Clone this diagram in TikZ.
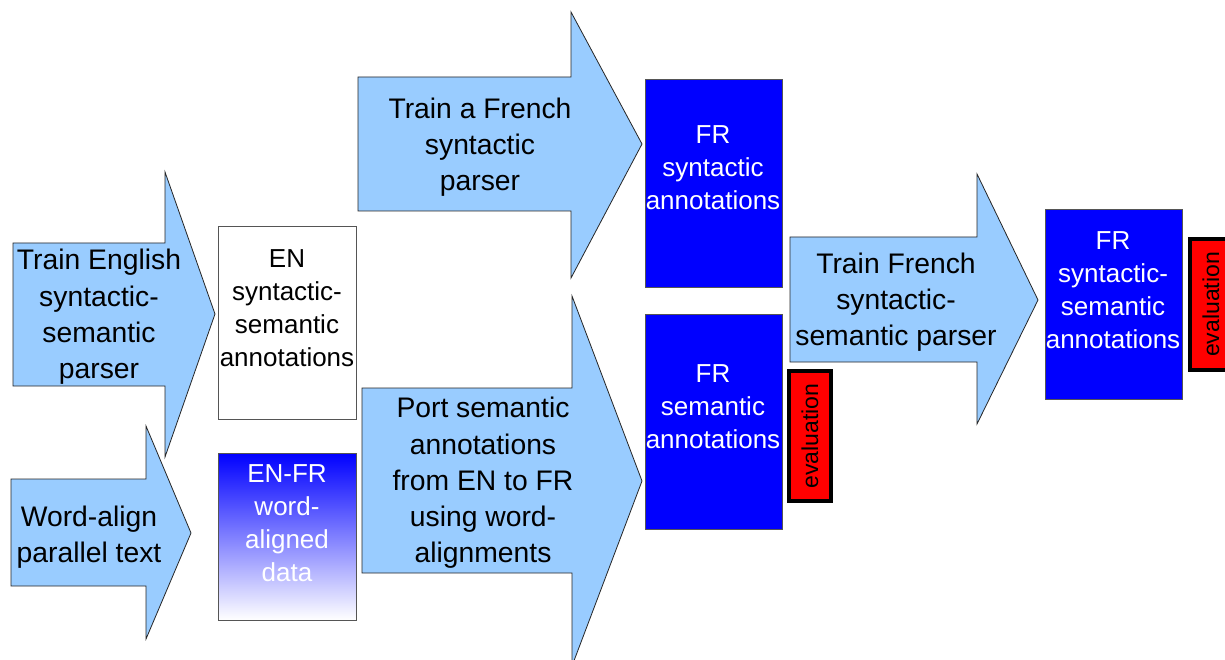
\documentclass[tikz,border=0pt]{standalone}
\usepackage{fontspec}
\setmainfont{Liberation Sans}
\definecolor{arrowblue}{HTML}{99CCFF}
\definecolor{boxblue}{HTML}{0000FF}
\definecolor{evalred}{HTML}{FF0000}
\definecolor{edgegray}{HTML}{555555}
\begin{document}
\begin{tikzpicture}[x=1pt,y=-1pt,
  blockarrow/.style={fill=arrowblue,draw=black!85,line width=0.8pt,line join=miter},
  atext/.style={font=\fontsize{28.3}{36.3}\selectfont,align=center,inner sep=0pt,text=black},
  btext/.style={font=\fontsize{26}{33}\selectfont,align=center,inner sep=0pt},
  whitebox/.style={draw=edgegray,fill=white,line width=0.8pt,inner sep=0pt},
  bluebox/.style={draw=edgegray,fill=boxblue,line width=0.8pt,inner sep=0pt},
  evalbox/.style={draw=black,fill=evalred,line width=3.5pt,inner sep=0pt},
  evaltext/.style={font=\fontsize{23}{28}\selectfont,rotate=90,inner sep=0pt,text=black}]
\useasboundingbox (0,0) rectangle (1225,660);
\fill[white] (0,0) rectangle (1225,660);

% Word-align arrow (drawn first)
\draw[blockarrow] (11,479) -- (146,479) -- (146,426) -- (191,533) -- (146,639) -- (146,586) -- (11,586) -- cycle;
% Train English arrow
\draw[blockarrow] (13,243) -- (165,243) -- (165,172) -- (215,314) -- (165,457) -- (165,386) -- (13,386) -- cycle;
% Train a French syntactic parser arrow
\draw[blockarrow] (358,77) -- (571,77) -- (571,12) -- (642,144) -- (571,278) -- (571,211) -- (358,211) -- cycle;
% Port semantic annotations arrow
\draw[blockarrow] (362,388) -- (572,388) -- (572,296) -- (642,481) -- (572,666) -- (572,573) -- (362,573) -- cycle;
% Train French syntactic-semantic parser arrow
\draw[blockarrow] (790,237) -- (977,237) -- (977,174) -- (1038,300) -- (977,424) -- (977,362) -- (790,362) -- cycle;

\node[atext] (t1) at (99,317) {Train English\\syntactic-\\semantic\\parser};
\node[atext] (t2) at (89,537) {Word-align\\parallel text};
\node[atext] (t3) at (480,147) {Train a French\\syntactic\\parser};
\node[atext] (t4) at (483,483) {Port semantic\\annotations\\from EN to FR\\using word-\\alignments};
\node[atext] (t5) at (896,302) {Train French\\syntactic-\\semantic parser};

% boxes
\node[whitebox,minimum width=138pt,minimum height=193pt] (en) at (287,322.5) {};
\node[btext,text=black] (entext) at (287,308.5) {EN\\syntactic-\\semantic\\annotations};

\path[draw=edgegray,line width=0.8pt,top color=boxblue,bottom color=white] (218,453) rectangle (356,620);
\node[inner sep=0pt] (enfr) at (287,536.5) {};
\node[btext,text=white] (enfrtext) at (287,523.5) {EN-FR\\word-\\aligned\\data};

\node[bluebox,minimum width=137pt,minimum height=208pt] (frsyn) at (713.5,183) {};
\node[btext,text=white] (frsyntext) at (713,167.5) {FR\\syntactic\\annotations};

\node[bluebox,minimum width=137pt,minimum height=215pt] (frsem) at (713.5,421.5) {};
\node[btext,text=white] (frsemtext) at (713,406.5) {FR\\semantic\\annotations};

\node[bluebox,minimum width=137pt,minimum height=190pt] (frss) at (1113.5,304) {};
\node[btext,text=white] (frsstext) at (1113,290.5) {FR\\syntactic-\\semantic\\annotations};

% evaluation boxes
\node[evalbox,minimum width=42pt,minimum height=130pt] (ev1) at (810,436) {};
\node[evaltext] (ev1text) at (ev1.center) {evaluation};
\node[evalbox,minimum width=42pt,minimum height=131pt] (ev2) at (1211,304.5) {};
\node[evaltext] (ev2text) at (ev2.center) {evaluation};
\end{tikzpicture}
\end{document}
